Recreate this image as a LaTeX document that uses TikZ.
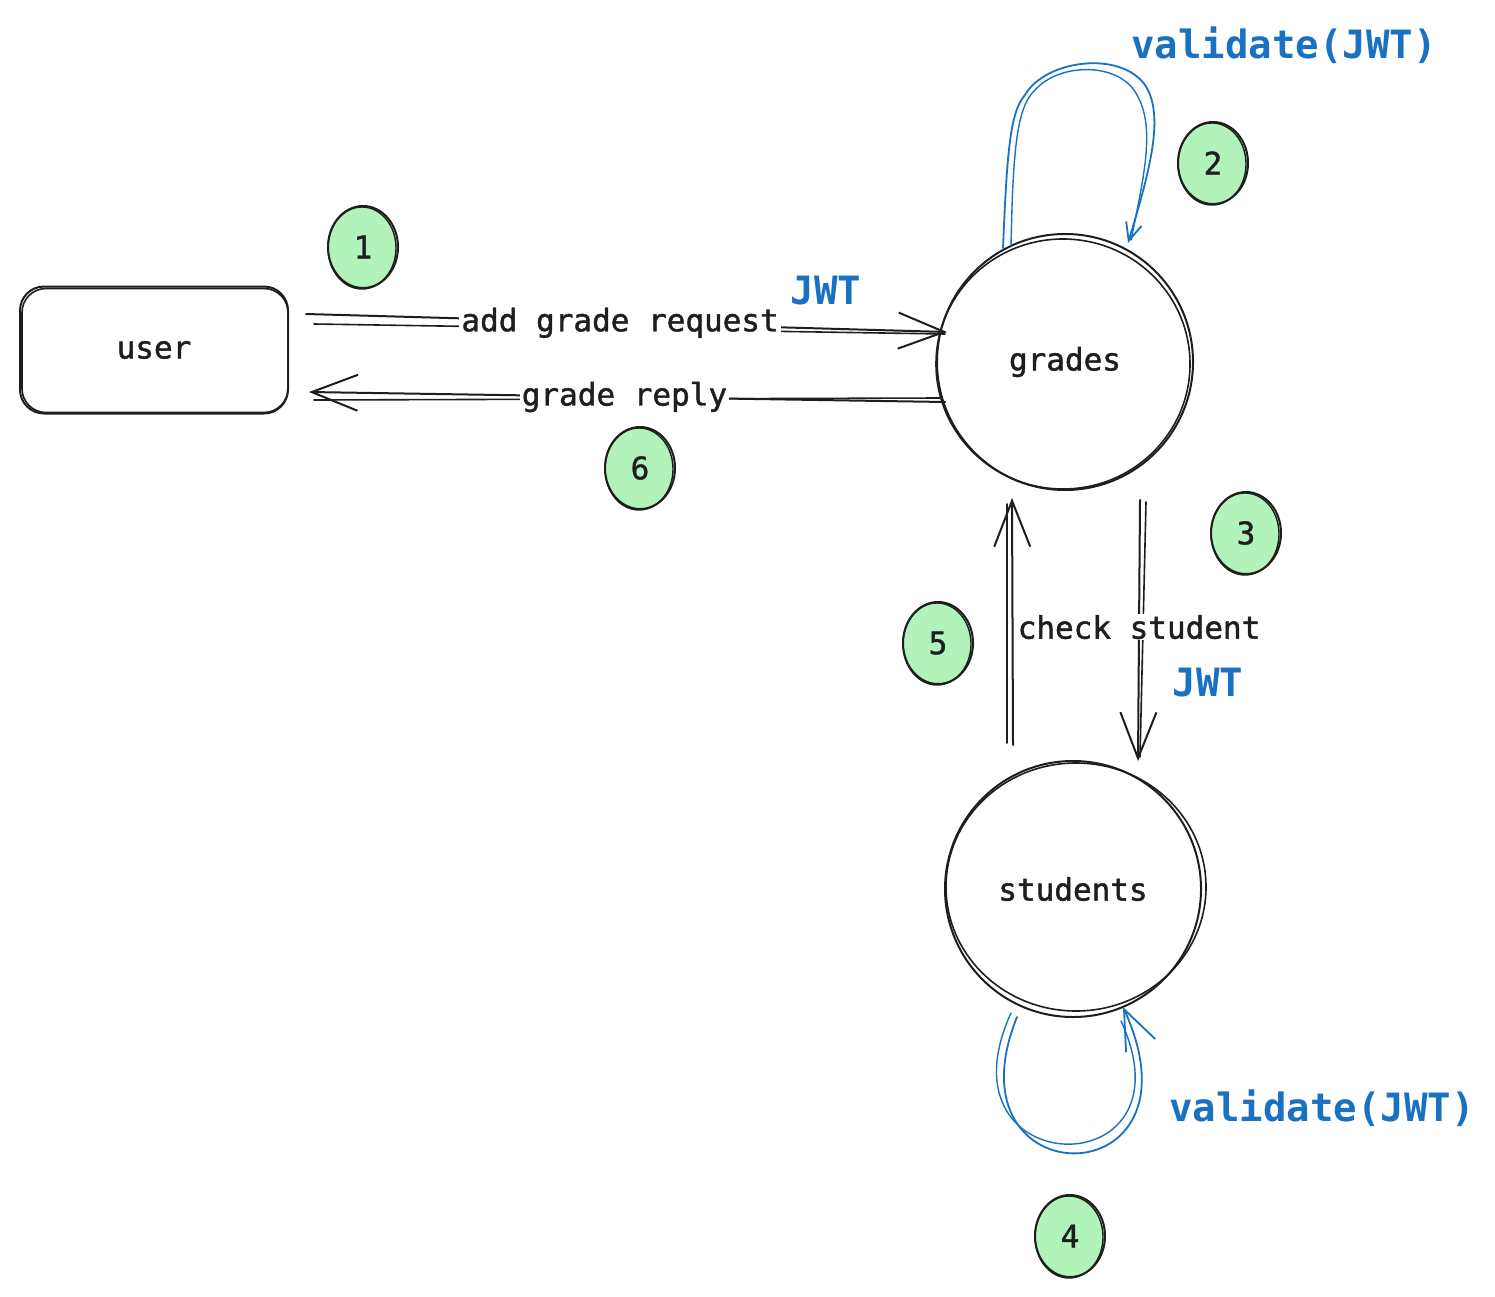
\documentclass[tikz,border=0pt]{standalone}
\usepackage{fontspec}
\setmonofont{DejaVu Sans Mono}
\newfontfamily\sketchfont{DejaVu Sans Mono}[FakeBold=1.4]
\usetikzlibrary{arrows.meta,calc,shapes.geometric}
\definecolor{ink}{HTML}{1E1E1E}
\definecolor{jwtblue}{HTML}{1971C2}
\definecolor{stepgreen}{HTML}{B2F2BB}
\begin{document}
\begin{tikzpicture}[x=1pt,y=-1pt,
  every node/.style={font=\sketchfont\fontsize{31}{36}\selectfont, text=ink},
  stroke/.style={draw=ink, line width=2pt, line cap=round, line join=round},
  svc/.style={circle, stroke, minimum size=256pt, inner sep=0pt},
  box/.style={rectangle, rounded corners=24pt, stroke, minimum width=268pt, minimum height=127pt},
  badge/.style={ellipse, draw=ink, line width=2pt, fill=stepgreen, minimum width=70pt, minimum height=82pt, inner sep=0pt},
  badgering/.style={draw=ink, line width=1.4pt},
  conn/.style={stroke, -{Straight Barb[length=46pt,width=36pt]}},
  conntwin/.style={draw=ink, line width=1.6pt, line cap=round},
  loopconn/.style={draw=jwtblue, line width=1.8pt, line cap=round},
  lbl/.style={fill=white, inner sep=2pt},
  bluelbl/.style={font=\ttfamily\bfseries\fontsize{39}{44}\selectfont, text=jwtblue},
]
% canvas
\fill[white] (0,0) rectangle (1495,1297);
\useasboundingbox (0,0) rectangle (1495,1297);

% --- main nodes ---
\node[box] (user) at (154,350) {user};
\node[svc] (grades) at (1065,362) {grades};
\node[svc] (students) at (1073,889) {students};

% hand-drawn second outlines
\draw[stroke, line width=1.6pt, rounded corners=24pt]
  ($(user.south west)+(3,-2)$) rectangle ($(user.north east)+(-1,3)$);
\draw[stroke, line width=1.6pt] ($(grades.center)+(-2,2)$) ellipse [x radius=127, y radius=125];
\draw[stroke, line width=1.6pt] ($(students.center)+(3,-2)$) ellipse [x radius=130, y radius=124];

% --- step badges ---
\foreach \n/\px/\py in {1/363/247, 2/1213/163, 3/1246/533, 4/1070/1236, 5/938/643, 6/640/468}{
  \node[badge] (b\n) at (\px,\py) {\n};
  \draw[badgering] ($(b\n.center)+(-1,1)$) ellipse [x radius=34, y radius=41];
}

% --- connector end points ---
\coordinate (reqS) at ($(user.east)+(17,-36)$);
\coordinate (reqE) at ($(grades.center)+(-118,-30)$);
\coordinate (repS) at ($(grades.center)+(-120,40)$);
\coordinate (repE) at ($(user.east)+(20,42)$);
\coordinate (chkS) at ($(grades.center)+(75,138)$);
\coordinate (chkE) at ($(students.center)+(65,-128)$);
\coordinate (retS) at ($(students.center)+(-60,-144)$);
\coordinate (retE) at ($(grades.center)+(-53,136)$);

% user -> grades
\draw[conn] (reqS) -- (reqE);
\draw[conntwin] ($(reqS)+(8,10)$) -- ($(reqE)+(-2,2)$);
\path (reqS) -- (reqE) node[pos=0.49, lbl] {add grade request};
\node[bluelbl] (jwtA) at (826,291) {JWT};

% grades -> user
\draw[conn] (repS) -- (repE);
\draw[conntwin] ($(repS)+(-4,-4)$) -- ($(repE)+(5,8)$);
\path (repS) -- (repE) node[pos=0.504, lbl] {grade reply};

% grades -> students
\draw[conn] (chkS) -- (chkE);
\draw[conntwin] ($(chkS)+(6,2)$) -- ($(chkE)+(2,-4)$);
\path (chkS) -- (chkE) node[pos=0.487, lbl, inner sep=1pt] {check student};
\node[bluelbl] (jwtB) at (1208,683) {JWT};

% students -> grades
\draw[conn] (retS) -- (retE);
\draw[conntwin] ($(retS)+(-6,-2)$) -- ($(retE)+(-5,6)$);

% self checks
\draw[loopconn, -{Straight Barb[length=18pt,width=16pt]}]
  ($(grades.center)+(-62,-114)$)
  .. controls ($(grades.center)+(-58,-210)$) and ($(grades.center)+(-55,-250)$) .. ($(grades.center)+(-40,-267)$)
  .. controls ($(grades.center)+(-20,-302)$) and ($(grades.center)+(55,-312)$) .. ($(grades.center)+(80,-277)$)
  .. controls ($(grades.center)+(100,-247)$) and ($(grades.center)+(85,-192)$) .. ($(grades.center)+(63,-119)$);
\draw[loopconn, line width=1.4pt]
  ($(grades.center)+(-54,-116)$)
  .. controls ($(grades.center)+(-52,-215)$) and ($(grades.center)+(-48,-255)$) .. ($(grades.center)+(-30,-272)$)
  .. controls ($(grades.center)+(-5,-300)$) and ($(grades.center)+(55,-300)$) .. ($(grades.center)+(72,-267)$)
  .. controls ($(grades.center)+(90,-235)$) and ($(grades.center)+(80,-190)$) .. ($(grades.center)+(66,-122)$);
\node[bluelbl] (valA) at (1284,45) {validate(JWT)};

\draw[loopconn, -{Straight Barb[length=40pt,width=32pt]}]
  ($(students.center)+(-56,128)$)
  .. controls ($(students.center)+(-130,311)$) and ($(students.center)+(138,311)$) ..
  ($(students.center)+(50,118)$);
\draw[loopconn, line width=1.4pt]
  ($(students.center)+(-62,124)$)
  .. controls ($(students.center)+(-140,295)$) and ($(students.center)+(125,300)$) ..
  ($(students.center)+(48,132)$);
\node[bluelbl] (valB) at (1322,1108) {validate(JWT)};
\end{tikzpicture}
\end{document}
